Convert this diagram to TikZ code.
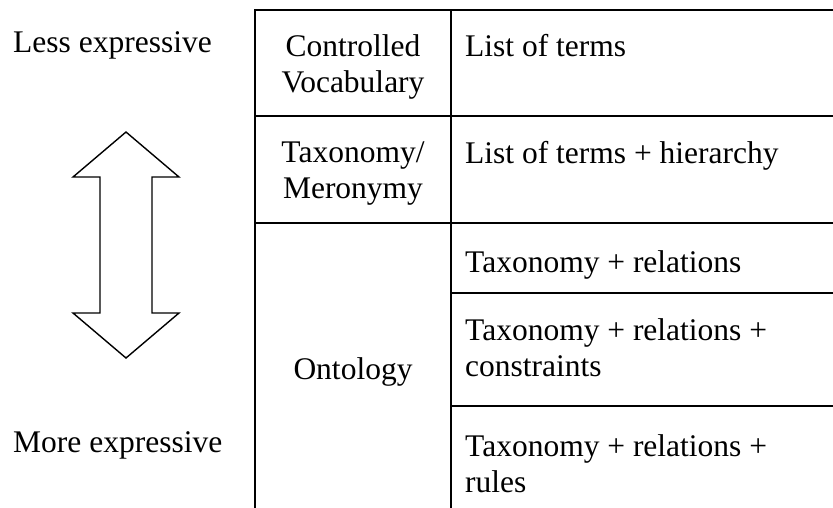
\documentclass[tikz,border=0pt]{standalone}
\usepackage{fontspec}
\setmainfont{Liberation Serif}
\begin{document}
\begin{tikzpicture}[x=1pt,y=-1pt,
  txt/.style={inner sep=0pt,font=\fontsize{31.5}{36}\selectfont},
  grid/.style={line width=2.2pt,line cap=rect},
  bigarrow/.style={line width=1.4pt,line join=miter}]
\useasboundingbox (0,0) rectangle (833,507);
% table lines
\draw[grid] (255,507) -- (255,10) -- (833,10);
\draw[grid] (451,10) -- (451,507);
\draw[grid] (255,116) -- (833,116);
\draw[grid] (255,223) -- (833,223);
\draw[grid] (451,293) -- (833,293);
\draw[grid] (451,406) -- (833,406);
% double arrow
\draw[bigarrow] (126,132) -- (179,177) -- (152,177) -- (152,313) -- (179,313)
  -- (126,358) -- (73,313) -- (100,313) -- (100,177) -- (73,177) -- cycle;
% left labels
\node[txt,anchor=base west] (less) at (13,52) {Less expressive};
\node[txt,anchor=base west] (more) at (13,452) {More expressive};
% first column (base anchor = last line)
\node[txt,anchor=base,align=center] (cv) at (353,92) {Controlled\\Vocabulary};
\node[txt,anchor=base,align=center] (tm) at (353,198) {Taxonomy/\\Meronymy};
\node[txt,anchor=base] (onto) at (353,379) {Ontology};
% second column
\node[txt,anchor=base west] (d1) at (465,56) {List of terms};
\node[txt,anchor=base west] (d2) at (465,163) {List of terms + hierarchy};
\node[txt,anchor=base west] (d3) at (465,272) {Taxonomy + relations};
\node[txt,anchor=base west,align=left] (d4) at (465,376) {Taxonomy + relations +\\constraints};
\node[txt,anchor=base west,align=left] (d5) at (465,492) {Taxonomy + relations +\\rules};
\end{tikzpicture}
\end{document}
